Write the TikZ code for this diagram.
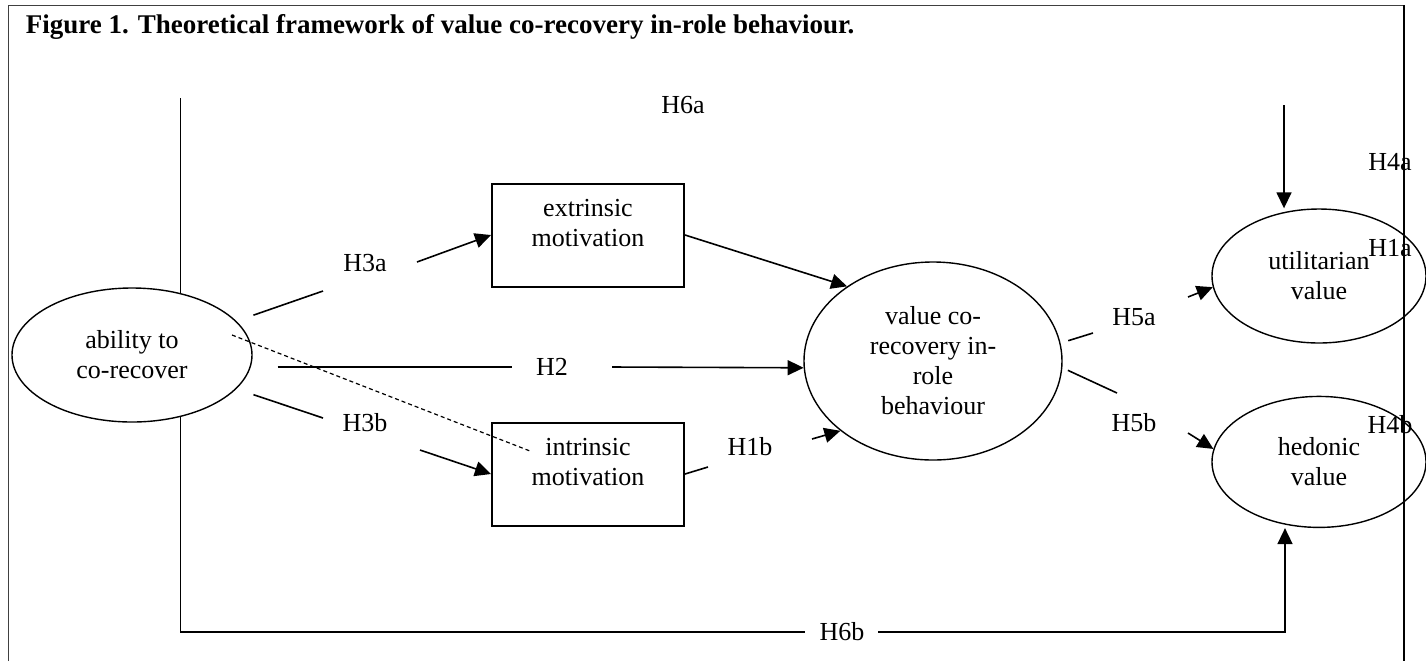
\documentclass[tikz,border=0pt]{standalone}
\usepackage{fontspec}
\setmainfont{Liberation Serif}
\usetikzlibrary{shapes.geometric, positioning, arrows.meta}

\begin{document}
\begin{tikzpicture}[x=0.5pt, y=-0.5pt, line width=0.8pt, >={Triangle[length=8pt,width=7.5pt]}]
    % Default look of each node
    \tikzstyle{every node}=[font=\fontsize{13}{15}\selectfont, inner sep=0pt, align=center];
    \tikzstyle{construct}=[draw, ellipse, line width=0.7pt];
    \tikzstyle{motive}=[draw, rectangle, line width=1pt, minimum width=96pt, minimum height=51.5pt, text depth=12pt];
    \useasboundingbox (0,0) rectangle (1426,661);

    % Frame and title
    \draw [line width=0.5pt, black!75] (8,661) -- (8,5) -- (1404,5);
    \draw [line width=0.9pt] (1404,5) -- (1404,661);
    \node (title) [anchor=base west, font=\fontsize{13.5}{15}\selectfont\bfseries] at (25,33)
        {Figure 1. Theoretical framework of value co-recovery in-role behaviour.};

    % Define and draw the constructs
    \node [construct, minimum width=120pt, minimum height=67pt] (ability) at (132,355) {ability to\\co-recover};
    \node [motive] (extr) at (588,235) {extrinsic\\motivation};
    \node [motive] (intr) [below=67pt of extr] {intrinsic\\motivation};
    \node [construct, minimum width=129pt, minimum height=99pt] (value) at (933,361) {value co-\\recovery in-\\role\\behaviour};
    \node [construct, minimum width=107pt, minimum height=67pt] (util) at (1319,276) {utilitarian\\value};
    \node [construct, minimum width=107pt, minimum height=65.5pt] (hed) [below=26pt of util] {hedonic\\value};

    % Hypothesis labels
    \node (h6a) at (683,105) {H6a};
    \node (h4a) at (1390,162) {H4a};
    \node (h1a) at (1390,248) {H1a};
    \node (h3a) at (365,263) {H3a};
    \node (h2) at (552,367) {H2};
    \node (h3b) at (365,423) {H3b};
    \node (h1b) at (750,447) {H1b};
    \node (h5a) at (1134,317) {H5a};
    \node (h5b) at (1134,423) {H5b};
    \node (h4b) at (1390,425) {H4b};
    \node (h6b) at (842,632) {H6b};

    % Free ends of the broken paths
    \coordinate (top6a) at (180,98);
    \coordinate (top4a) at (1284,105);
    \coordinate (a3a) at (323,291);
    \coordinate (b3a) at (417,262);
    \coordinate (a3b) at (323,418);
    \coordinate (b3b) at (420,450);
    \coordinate (a2) at (512,367);
    \coordinate (b2) at (612,367);
    \coordinate (a1b) at (708,467);
    \coordinate (b1b) at (812,439);
    \coordinate (a5a) at (1093,333);
    \coordinate (b5a) at (1188,297);
    \coordinate (a5b) at (1117,393);
    \coordinate (b5b) at (1188,433);
    \coordinate (a6b) at (805,632);
    \coordinate (b6b) at (878,632);
    \coordinate (c6b) at (1285,632);
    \coordinate (dstart) at (232,335);
    \coordinate (dend) at (530,451);

    % Draw the paths
    \draw (ability.52) -- (ability.52 |- top6a);
    \draw [->] (top4a) -- (top4a |- util.north);
    \draw [shorten <=9pt] (ability.18) -- (a3a);
    \draw [->] (b3a) -- (extr.west);
    \draw [shorten <=12.5pt] (ability.east |- a2) -- (a2);
    \draw [->] (b2) -- (value.183);
    \draw [shorten <=9pt] (ability.-18) -- (a3b);
    \draw [->] (b3b) -- (intr.west);
    \draw (intr.east) -- (a1b);
    \draw [->] (b1b) -- (value.217);
    \draw [->] (extr.east) -- (value.139);
    \draw [shorten <=4pt] (value.8) -- (a5a);
    \draw [->] (b5a) -- (util.186);
    \draw [shorten <=3pt] (value.-3) -- (a5b);
    \draw [->] (b5b) -- (hed.173);
    \draw (ability.-52) |- (a6b);
    \draw [->] (b6b) -- (c6b) -- (c6b |- hed.south);
    \draw [dashed, line width=0.6pt, dash pattern=on 2pt off 1.5pt] (dstart) -- (dend);
\end{tikzpicture}
\end{document}
